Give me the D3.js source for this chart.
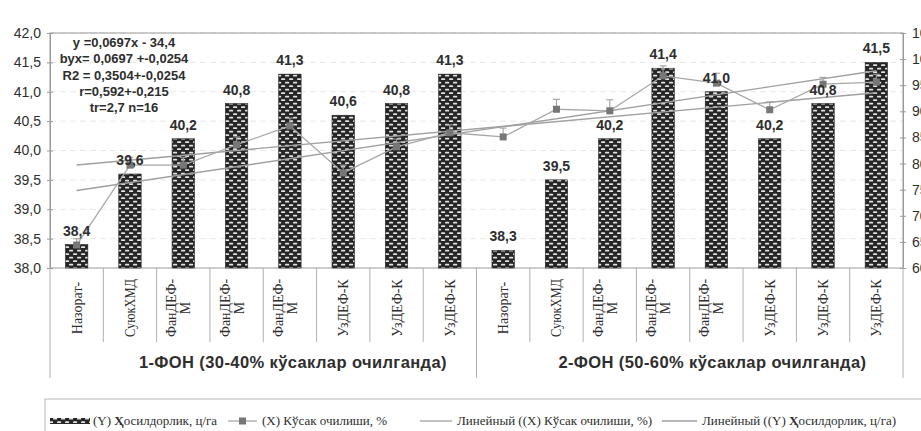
<!DOCTYPE html>
<html><head><meta charset="utf-8">
<script src="https://cdn.jsdelivr.net/npm/d3@7"></script>
<style>body{margin:0;background:#fff} svg{display:block}</style>
</head><body><svg id="chart" width="921" height="431"></svg>
<script>
// Variants (two backgrounds of 8 variants each)
const categories = ["Назорат-","СуюкХМД","ФанДЕФ-\nМ","ФанДЕФ-\nМ","ФанДЕФ-\nМ","УзДЕФ-К","УзДЕФ-К","УзДЕФ-К",
                    "Назорат-","СуюкХМД","ФанДЕФ-\nМ","ФанДЕФ-\nМ","ФанДЕФ-\nМ","УзДЕФ-К","УзДЕФ-К","УзДЕФ-К"];
const groups = ["1-ФОН (30-40% кўсаклар очилганда)", "2-ФОН (50-60% кўсаклар очилганда)"];
// (Y) yield, c/ha — left axis
const yieldValues = [38.4, 39.6, 40.2, 40.8, 41.3, 40.6, 40.8, 41.3,
                     38.3, 39.5, 40.2, 41.4, 41.0, 40.2, 40.8, 41.5];
// (X) boll opening, % — right axis
const openingValues = [64.4, 79.7, 79.7, 83.6, 87.2, 78.2, 83.2, 85.9,
                       85.1, 90.4, 90.1, 96.8, 95.4, 90.3, 95.2, 95.6];
const openingErrors = [1.2, 1.5, 1.5, 1.5, 1.5, 1.5, 1.5, 1.5,
                       1.7, 1.9, 2.1, 1.9, 1.9, 1.5, 1.3, 1.5];
const leftTicks = [38.0, 38.5, 39.0, 39.5, 40.0, 40.5, 41.0, 41.5, 42.0];
const rightTicks = [60, 65, 70, 75, 80, 85, 90, 95, 100, 105];
const statsLines = ["y =0,0697x - 34,4", "byx= 0,0697 +-0,0254", "R2 = 0,3504+-0,0254",
                    "r=0,592+-0,215", "tr=2,7 n=16"];

const svg = d3.select("#chart");
const m = {left: 50, right: 903, top: 33, bottom: 268};
const ink = "#2e2e2e", gridGray = "#9a9a9a";
const sans = "'Liberation Sans', Arial, sans-serif";
const serif = "'Liberation Serif', 'Times New Roman', serif";
const comma = v => d3.format(".1f")(v).replace(".", ",");

const idx = d3.range(categories.length);
const x = d3.scaleBand().domain(idx).range([m.left, m.right]).padding(0);
const bw = x.bandwidth();
const barW = bw * 0.42;
const yL = d3.scaleLinear().domain([38, 42]).range([m.bottom, m.top]);
const yR = d3.scaleLinear().domain([60, 105]).range([m.bottom, m.top]);
const cx = i => x(i) + bw / 2;

// bar fill: dark with rows of staggered light dashes
const defs = svg.append("defs");
const pat = defs.append("pattern").attr("id", "brick").attr("patternUnits", "userSpaceOnUse")
  .attr("width", 8).attr("height", 7);
pat.append("rect").attr("width", 8).attr("height", 7).attr("fill", "#262626");
[[1, 1.2], [5, 4.7], [-3, 4.7]].forEach(([px, py]) =>
  pat.append("rect").attr("x", px).attr("y", py).attr("width", 4.2).attr("height", 1.9)
    .attr("rx", 0.9).attr("fill", "#e2e2e2"));

// faint horizontal gridlines
svg.append("g").selectAll("line").data(leftTicks.slice(1)).join("line")
  .attr("x1", m.left).attr("x2", m.right).attr("y1", d => yL(d)).attr("y2", d => yL(d))
  .attr("stroke", "#e8e8e8").attr("stroke-width", 1).attr("stroke-dasharray", "6,4");

// plot border
svg.append("rect").attr("x", m.left).attr("y", m.top).attr("width", m.right - m.left)
  .attr("height", m.bottom - m.top).attr("fill", "none").attr("stroke", gridGray);

// bars
svg.append("g").selectAll("rect").data(yieldValues).join("rect")
  .attr("x", (d, i) => cx(i) - barW / 2).attr("width", barW)
  .attr("y", d => yL(d)).attr("height", d => yL(38) - yL(d))
  .attr("fill", "url(#brick)").attr("stroke", "#222").attr("stroke-width", 0.6);

// least-squares trend over the category index
function trend(vals) {
  const xs = vals.map((_, i) => i + 1);
  const mx = d3.mean(xs), my = d3.mean(vals);
  const b = d3.sum(xs, (xi, i) => (xi - mx) * (vals[i] - my)) / d3.sum(xs, xi => (xi - mx) ** 2);
  return xi => my + b * (xi - mx);
}
const tX = trend(openingValues), tY = trend(yieldValues);
const last = categories.length - 1;
svg.append("line").attr("x1", cx(0)).attr("x2", cx(last))
  .attr("y1", yR(tX(1))).attr("y2", yR(tX(last + 1)))
  .attr("stroke", "#a0a0a0").attr("stroke-width", 1.4);
svg.append("line").attr("x1", cx(0)).attr("x2", cx(last))
  .attr("y1", yL(tY(1))).attr("y2", yL(tY(last + 1)))
  .attr("stroke", "#a0a0a0").attr("stroke-width", 1.4);

// (X) series line, error bars and markers
svg.append("path").datum(openingValues)
  .attr("d", d3.line().x((d, i) => cx(i)).y(d => yR(d)))
  .attr("fill", "none").attr("stroke", "#a8a8a8").attr("stroke-width", 1.3);
const eb = svg.append("g").attr("stroke", "#a0a0a0").attr("stroke-width", 1.1);
openingValues.forEach((v, i) => {
  const y0 = yR(v), y1 = yR(v + openingErrors[i]);
  eb.append("line").attr("x1", cx(i)).attr("x2", cx(i)).attr("y1", y0).attr("y2", y1);
  eb.append("line").attr("x1", cx(i) - 3.5).attr("x2", cx(i) + 3.5).attr("y1", y1).attr("y2", y1);
});
svg.append("g").selectAll("rect").data(openingValues).join("rect")
  .attr("x", (d, i) => cx(i) - 3.5).attr("y", d => yR(d) - 3.5)
  .attr("width", 7).attr("height", 7).attr("fill", "#777");

// bar value labels
svg.append("g").selectAll("text").data(yieldValues).join("text")
  .attr("x", (d, i) => cx(i)).attr("y", d => yL(d) - 9)
  .attr("text-anchor", "middle").attr("font-family", sans).attr("font-weight", "bold")
  .attr("font-size", 14).attr("fill", ink).text(d => comma(d));

// left axis
const axL = svg.append("g").attr("transform", `translate(${m.left},0)`)
  .call(d3.axisLeft(yL).tickValues(leftTicks).tickFormat(comma).tickSizeInner(3).tickSizeOuter(0));
axL.selectAll(".tick line").attr("x2", 3).attr("x1", -3).attr("stroke", gridGray);
axL.select(".domain").attr("stroke", gridGray);
axL.selectAll("text").attr("x", -9).attr("font-family", sans).attr("font-size", 14).attr("fill", ink);

// right axis
const axR = svg.append("g").attr("transform", `translate(${m.right},0)`)
  .call(d3.axisRight(yR).tickValues(rightTicks).tickFormat(d3.format("d")).tickSizeInner(3).tickSizeOuter(0));
axR.selectAll(".tick line").attr("x1", -3).attr("x2", 3).attr("stroke", gridGray);
axR.select(".domain").attr("stroke", gridGray);
axR.selectAll("text").attr("x", 9).attr("font-family", sans).attr("font-size", 14).attr("fill", ink);

// category dividers below the axis
const divG = svg.append("g").attr("stroke", "#b0b0b0").attr("stroke-width", 1);
d3.range(categories.length + 1).forEach(k => {
  const xx = k === categories.length ? m.right : x(k);
  const major = k % 8 === 0;
  divG.append("line").attr("x1", xx).attr("x2", xx).attr("y1", m.bottom)
    .attr("y2", major ? 378 : 342);
});

// rotated category labels (condensed to fit under the axis)
const catG = svg.append("g").attr("font-family", serif).attr("font-size", 14).attr("fill", ink);
const maxLen = 58;
categories.forEach((c, i) => {
  const parts = c.split("\n");
  parts.forEach((p, j) => {
    const dx = parts.length > 1 ? (j === 0 ? -12 : 2) : 0;
    const t = catG.append("text")
      .attr("transform", `translate(${cx(i) + dx + 5},308) rotate(-90)`)
      .attr("text-anchor", "middle").text(p);
    if (t.node().getComputedTextLength() > maxLen)
      t.attr("textLength", maxLen).attr("lengthAdjust", "spacingAndGlyphs");
  });
});

// group labels
[[4, 3], [12, -4]].forEach(([k, off], g) => {
  svg.append("text").attr("x", cx(k) + off).attr("y", 368).attr("text-anchor", "middle")
    .attr("font-family", sans).attr("font-weight", "bold").attr("font-size", 16.5)
    .attr("letter-spacing", 0.4).attr("fill", ink).text(groups[g]);
});

// regression statistics
const st = svg.append("text").attr("font-family", sans).attr("font-weight", "bold")
  .attr("font-size", 13).attr("fill", ink).attr("text-anchor", "middle");
statsLines.forEach((s, i) => st.append("tspan").attr("x", 124).attr("y", 47 + i * 16.3).text(s));

// legend
const lg = svg.append("g").attr("font-family", serif).attr("font-size", 13).attr("fill", ink);
lg.append("rect").attr("x", 45).attr("y", 399).attr("width", 900).attr("height", 50)
  .attr("fill", "#fff").attr("stroke", "#b8b8b8");
const ly = 421;
lg.append("rect").attr("x", 50).attr("y", ly - 3).attr("width", 40).attr("height", 6).attr("fill", "url(#brick)");
const t1 = lg.append("text").attr("x", 93).attr("y", ly + 4);
t1.append("tspan").text("(Y)  ");
t1.append("tspan").attr("font-weight", "bold").text("Ҳ");
t1.append("tspan").text("осилдорлик, ц/га");
lg.append("line").attr("x1", 228).attr("x2", 257).attr("y1", ly).attr("y2", ly).attr("stroke", "#a8a8a8").attr("stroke-width", 1.3);
lg.append("rect").attr("x", 239).attr("y", ly - 3.5).attr("width", 7).attr("height", 7).attr("fill", "#777");
lg.append("text").attr("x", 262).attr("y", ly + 4).text("(X)  Кўсак очилиши, %");
lg.append("line").attr("x1", 420).attr("x2", 452).attr("y1", ly).attr("y2", ly).attr("stroke", "#a0a0a0").attr("stroke-width", 1.3);
lg.append("text").attr("x", 457).attr("y", ly + 4).text("Линейный ((X)  Кўсак очилиши, %)");
lg.append("line").attr("x1", 662).attr("x2", 697).attr("y1", ly).attr("y2", ly).attr("stroke", "#a0a0a0").attr("stroke-width", 1.3);
const t4 = lg.append("text").attr("x", 702).attr("y", ly + 4);
t4.append("tspan").text("Линейный ((Y)  ");
t4.append("tspan").attr("font-weight", "bold").text("Ҳ");
t4.append("tspan").text("осилдорлик, ц/га)");
</script></body></html>
